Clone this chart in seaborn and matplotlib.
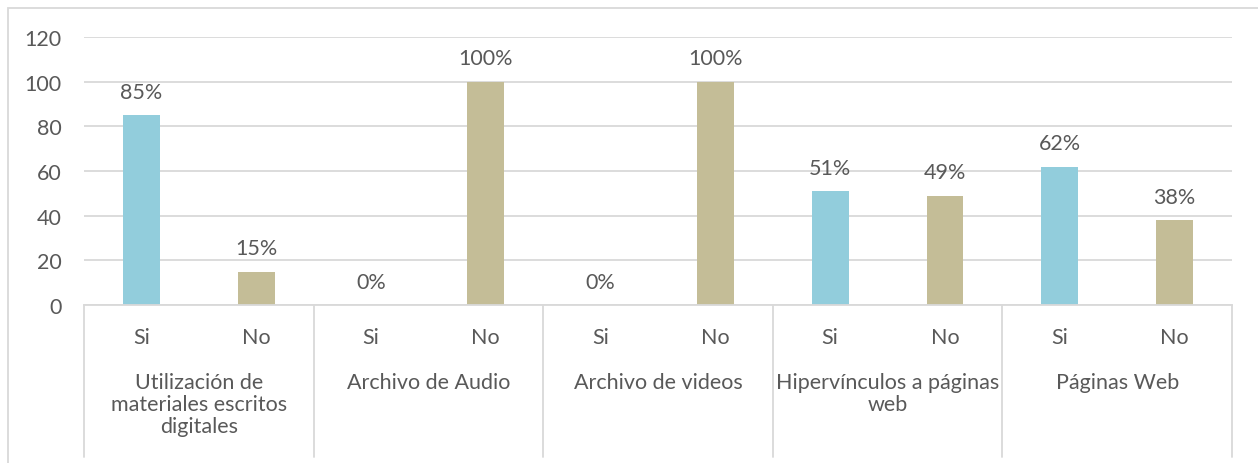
import matplotlib
matplotlib.use("Agg")
import matplotlib.pyplot as plt
from matplotlib.patches import Rectangle
import matplotlib.transforms as mtransforms
import seaborn as sns
import pandas as pd

groups = ["Utilización de\nmateriales escritos\ndigitales", "Archivo de Audio",
          "Archivo de videos", "Hipervínculos a páginas\nweb", "Páginas Web"]
answers = ["Si", "No"]
values = [85, 15, 0, 100, 0, 100, 51, 49, 62, 38]
labels = ["85%", "15%", "0%", "100%", "0%", "100%", "51%", "49%", "62%", "38%"]

rows = []
for i, v in enumerate(values):
    rows.append({"pos": i, "resp": answers[i % 2], "val": v})
df = pd.DataFrame(rows)

sns.set_style("white")
plt.rcParams["font.family"] = ["Lato", "DejaVu Sans"]
txt = "#595959"
grid = "#D9D9D9"
fs = 15.5

fig = plt.figure(figsize=(12.58, 4.64), dpi=100)
ax = fig.add_axes([84 / 1258, 1 - 306 / 464, (1232 - 84) / 1258, (306 - 38) / 464])

sns.barplot(data=df, x="pos", y="val", hue="resp", palette={"Si": "#92CDDC", "No": "#C4BD97"},
            width=0.32, dodge=False, legend=False, ax=ax, saturation=1, linewidth=0)

ax.set_ylim(0, 120)
ax.set_xlim(-0.5, 9.5)
ax.set_yticks(range(0, 121, 20))
ax.yaxis.grid(True, color=grid, linewidth=1.3)
ax.set_axisbelow(True)
for s in ["top", "right", "left"]:
    ax.spines[s].set_visible(False)
ax.spines["bottom"].set_color(grid)
ax.spines["bottom"].set_linewidth(1.3)
ax.set_xlabel("")
ax.set_ylabel("")
ax.set_xticks(range(10))
ax.set_xticklabels([answers[i % 2] for i in range(10)])
ax.tick_params(axis="both", length=0, labelsize=fs, colors=txt)
ax.tick_params(axis="x", pad=16)
ax.tick_params(axis="y", pad=16)

for i, v in enumerate(values):
    ax.text(i, v + 6, labels[i], ha="center", va="bottom", fontsize=fs, color=txt)

trans = mtransforms.blended_transform_factory(ax.transData, ax.transAxes)
for k in range(6):
    x = -0.5 + 2 * k
    ax.plot([x, x], [0, -152 / 268], color=grid, linewidth=1.3, transform=trans, clip_on=False)
for g, name in enumerate(groups):
    ax.text(2 * g + 0.5, -67 / 268, name, ha="center", va="top", fontsize=fs, color=txt,
            transform=trans, linespacing=1.12)

fig.patches.append(Rectangle((8 / 1258, -0.1), 1.2, 1.1 - 9 / 464, transform=fig.transFigure,
                             fill=False, edgecolor=grid, linewidth=1.3))

fig.savefig("out.png", dpi=100)
